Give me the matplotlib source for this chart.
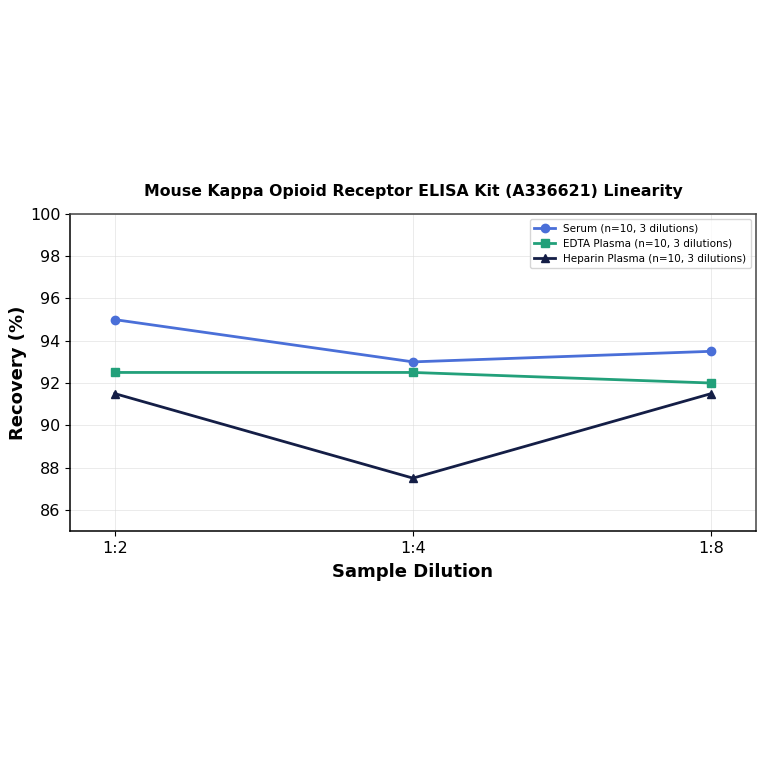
import numpy as np
import matplotlib.pyplot as plt

# Datos
dilutions = ['1:2', '1:4', '1:8']
serum = [95.0, 93.0, 93.5]
edta = [92.5, 92.5, 92.0]
heparin = [91.5, 87.5, 91.5]

fig = plt.figure(figsize=(7.64, 7.64), dpi=100)
ax = fig.add_axes([0.0916, 0.305, 0.8979, 0.415])

x = np.arange(len(dilutions))
ax.plot(x, serum, marker='o', color='#4a6fd8', linewidth=2, markersize=6,
        label='Serum (n=10, 3 dilutions)')
ax.plot(x, edta, marker='s', color='#22a07a', linewidth=2, markersize=6,
        label='EDTA Plasma (n=10, 3 dilutions)')
ax.plot(x, heparin, marker='^', color='#141e46', linewidth=2, markersize=6,
        label='Heparin Plasma (n=10, 3 dilutions)')

ax.set_xticks(x)
ax.set_xticklabels(dilutions)
ax.set_xlim(-0.15, 2.15)
ax.set_ylim(85, 100)
ax.set_yticks(np.arange(86, 101, 2))
ax.tick_params(labelsize=11.5)
ax.grid(True, color='#dddddd', linewidth=0.6, alpha=0.7)

for side in ['top', 'right']:
    ax.spines[side].set_color('#444444')
ax.spines['left'].set_color('black')
ax.spines['bottom'].set_color('black')
for s in ax.spines.values():
    s.set_linewidth(1.1)

ax.set_title('Mouse Kappa Opioid Receptor ELISA Kit (A336621) Linearity',
             fontsize=11.3, fontweight='bold', pad=13)
ax.set_xlabel('Sample Dilution', fontsize=13, fontweight='bold', labelpad=5)
ax.set_ylabel('Recovery (%)', fontsize=13, fontweight='bold', labelpad=2)
ax.legend(loc='upper right', fontsize=7.5)

fig.savefig('out.png', dpi=100)
